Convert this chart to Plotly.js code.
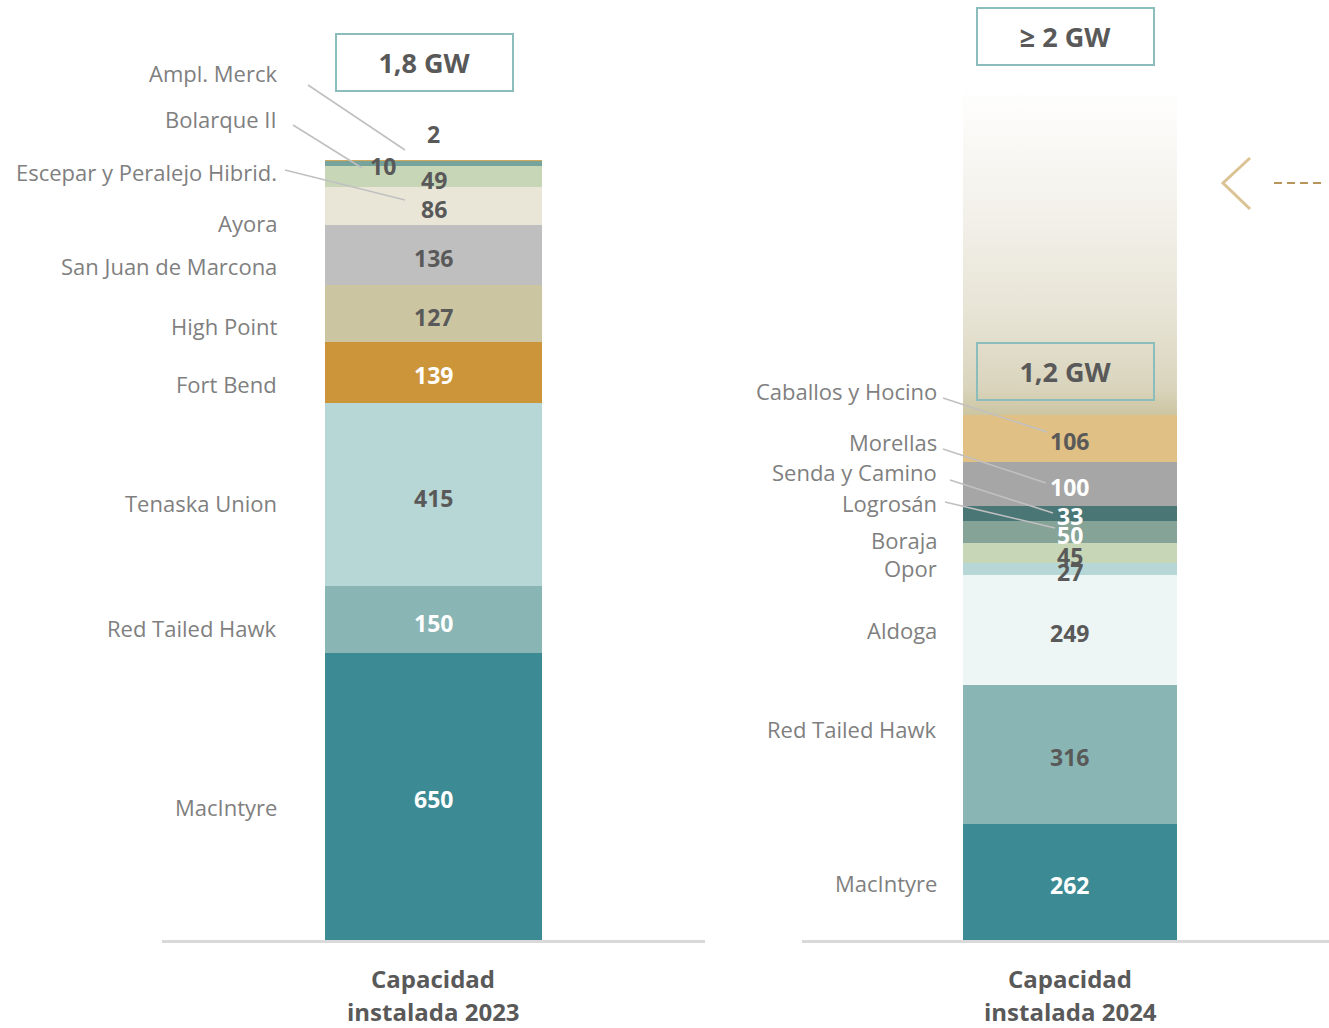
<!DOCTYPE html>
<html><head><meta charset="utf-8">
<script src="https://cdn.plot.ly/plotly-3.0.1.min.js"></script>
<style>html,body{margin:0;padding:0;background:#fff}</style>
</head><body><div id="chart" style="width:1329px;height:1028px"></div>
<script>
// ---------- data ----------
const categories = ['Capacidad instalada 2023', 'Capacidad instalada 2024'];
const names2023 = ['MacIntyre','Red Tailed Hawk','Tenaska Union','Fort Bend','High Point','San Juan de Marcona','Ayora','Escepar y Peralejo Hibrid.','Bolarque II','Ampl. Merck'];
const values2023 = [650,150,415,139,127,136,86,49,10,2];
const names2024 = ['MacIntyre','Red Tailed Hawk','Aldoga','Opor','Boraja','Logrosán','Senda y Camino','Morellas','Caballos y Hocino'];
const values2024 = [262,316,249,27,45,50,33,100,106];
const totalLabels = ['1,8 GW','1,2 GW','≥ 2 GW'];
const target2024 = 1930; // top of the faded "≥ 2 GW" projection

// ---------- styles ----------
const colors2023 = ['#3C8A93','#89B5B4','#B7D6D6','#CC9539','#CCC5A1','#BFBFBF','#E9E6D8','#C8D6B8','#76A39B','#D4A85A'];
const colors2024 = ['#3C8A93','#89B5B4','#EEF5F5','#B7D6D6','#C8D6B8','#86A398','#4A7676','#A6A6A6','#E0C085'];
const txt2023 = ['#FFFFFF','#FFFFFF','#595959','#FFFFFF','#595959','#595959','#595959','#595959','#595959','#595959'];
const txt2024 = ['#FFFFFF','#595959','#595959','#595959','#595959','#FFFFFF','#FFFFFF','#FFFFFF','#595959'];
// name label pixel rows
const nameY2023 = [807,628,503,384,326,266,223,172,119,73];
const nameY2024 = [883,729,630,568,540,503,472,442,391];
// value label tweaks (px) [xshift, yshift]
const valShift2023 = {7:[0,-3], 8:[-51,-2], 9:[0,27]};
const valShift2024 = {};

const W = 1329, PH = 940;
const px = x => x / W;
const py = y => (PH - y) / PH;
const DARK = '#595959', NAMEC = '#7F7F7F', LEAD = '#C0C0C0';
const F = 'Open Sans, Noto Sans, sans-serif';

const traces = [];
function addBars(names, vals, cols, xa, ya, width) {
  names.forEach((n, i) => {
    traces.push({type:'bar', x:[0], y:[vals[i]], width:[width], name:n,
      marker:{color:cols[i], line:{width:0}}, xaxis:xa, yaxis:ya,
      hoverinfo:'name+y', showlegend:false});
  });
}
addBars(names2023, values2023, colors2023, 'x', 'y', 0.4);
addBars(names2024, values2024, colors2024, 'x2', 'y2', 0.406);

const total2024 = values2024.reduce((a,b)=>a+b,0);
traces.push({type:'scatter', mode:'lines', xaxis:'x2', yaxis:'y2',
  x:[-0.203,0.203,0.203,-0.203,-0.203], y:[total2024,total2024,target2024,target2024,total2024],
  line:{width:0}, fill:'toself', hoverinfo:'skip', showlegend:false,
  fillgradient:{type:'vertical', colorscale:[[0,'#CCC5A1'],[0.08,'#D9D4BC'],[0.3,'#E7E3D4'],[0.6,'#F2F0E9'],[0.85,'#FAF9F6'],[1,'#FFFFFF']]}
});

const annotations = [];
const shapes = [];
function valueLabels(vals, tc, xa, ya, shifts) {
  let cum = 0;
  vals.forEach((v, i) => {
    const c = cum + v / 2; cum += v;
    const s = shifts[i] || [0, -3];
    annotations.push({xref:xa, yref:ya, x:0, y:c, text:String(v), showarrow:false,
      xshift:s[0], yshift:s[1], font:{family:F, size:23, color:tc[i], weight:700}});
  });
}
valueLabels(values2023, txt2023, 'x', 'y', valShift2023);
valueLabels(values2024, txt2024, 'x2', 'y2', valShift2024);

function nameLabels(names, ys, xr) {
  names.forEach((n, i) => annotations.push({xref:'paper', yref:'paper', x:px(xr), y:py(ys[i]),
    xanchor:'right', yanchor:'middle', text:n, showarrow:false,
    font:{family:F, size:22, color:NAMEC}}));
}
nameLabels(names2023, nameY2023, 279);
nameLabels(names2024, nameY2024, 939);

// total boxes
function box(text, cx, cy) {
  annotations.push({xref:'paper', yref:'paper', x:px(cx), y:py(cy), xanchor:'center', yanchor:'middle',
    text:text, showarrow:false, width:175, height:55, borderwidth:2, bordercolor:'#8BBDBD', borderpad:0,
    bgcolor:'rgba(0,0,0,0)', font:{family:F, size:27, color:DARK, weight:700}});
}
box(totalLabels[0], 424.5, 62.5);
box(totalLabels[1], 1065.5, 371.5);
box(totalLabels[2], 1065.5, 36);

// category labels
[[categories[0], 433], [categories[1], 1070]].forEach(([c, x]) => {
  const parts = c.split(' ');
  annotations.push({xref:'paper', yref:'paper', x:px(x), y:py(978), text:parts[0], showarrow:false,
    xanchor:'center', yanchor:'middle', font:{family:F, size:24, color:DARK, weight:700}});
  annotations.push({xref:'paper', yref:'paper', x:px(x), y:py(1012), text:parts.slice(1).join(' '), showarrow:false,
    xanchor:'center', yanchor:'middle', font:{family:F, size:24, color:DARK, weight:700}});
});

// leader lines
const leaders = [[308,85,405,150],[293,125,362,168],[285,170,405,200],
  [943,398,1047,432],[943,449,1046,483],[950,480,1053,513],[945,502,1055,528]];
leaders.forEach(([x0,y0,x1,y1]) => shapes.push({type:'line', xref:'paper', yref:'paper',
  x0:px(x0), y0:py(y0), x1:px(x1), y1:py(y1), line:{color:LEAD, width:1.6}}));

// chevron + dashed line
shapes.push({type:'path', xref:'paper', yref:'paper',
  path:`M ${px(1250)} ${py(158)} L ${px(1223)} ${py(183)} L ${px(1250)} ${py(209)}`,
  line:{color:'#DCC394', width:3}});
shapes.push({type:'line', xref:'paper', yref:'paper', x0:px(1274), y0:py(183), x1:px(1326), y1:py(183),
  line:{color:'#B8955A', width:2, dash:'8px,5px'}});

const yr = [0, 2127];
const axX = {showline:true, linecolor:'#D9D9D9', linewidth:3, showgrid:false, zeroline:false,
  showticklabels:false, ticks:'', fixedrange:true};
const axY = {range:yr, visible:false, showgrid:false, zeroline:false, fixedrange:true};
const layout = {
  width:W, height:1028, margin:{l:0, r:0, t:0, b:88}, barmode:'stack',
  paper_bgcolor:'#FFFFFF', plot_bgcolor:'rgba(0,0,0,0)', showlegend:false,
  xaxis: Object.assign({domain:[162/W, 705/W], range:[-0.5,0.5], anchor:'y'}, axX),
  xaxis2: Object.assign({domain:[802/W, 1], range:[-0.5085,0.4915], anchor:'y2'}, axX),
  yaxis: Object.assign({anchor:'x'}, axY),
  yaxis2: Object.assign({anchor:'x2'}, axY),
  annotations, shapes
};
Plotly.newPlot('chart', traces, layout, {displayModeBar:false, staticPlot:true});
</script></body></html>
